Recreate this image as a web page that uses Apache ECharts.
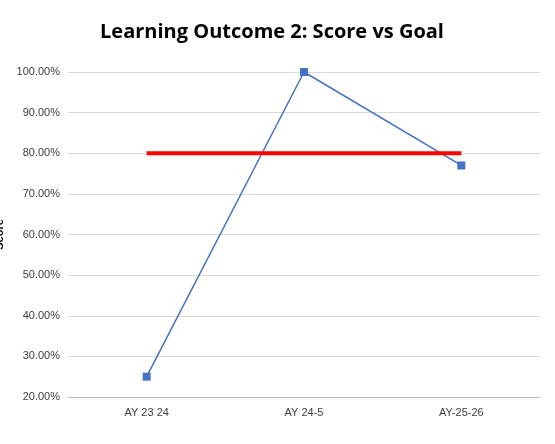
<!DOCTYPE html>
<html><head><meta charset="utf-8">
<script src="https://cdn.jsdelivr.net/npm/echarts@6/dist/echarts.min.js"></script>
<style>html,body{margin:0;padding:0;background:#fff}#c{width:555px;height:444px}</style>
</head><body><div id="c"></div>
<script>
const categories = ['AY 23 24', 'AY 24-5', 'AY-25-26'];
const scores = [0.25, 1.0, 0.77];
const goal = [0.8, 0.8, 0.8];
const chart = echarts.init(document.getElementById('c'));
chart.setOption({
  animation: false,
  title: { text: 'Learning Outcome 2: Score vs Goal', left: 267, textAlign: 'center', top: 17,
    textStyle: { fontFamily: 'Open Sans', fontWeight: 'bold', fontSize: 20, color: '#000' } },
  grid: { left: 68, right: 15, top: 72, bottom: 47, containLabel: false, outerBoundsMode: 'none' },
  xAxis: { type: 'category', data: categories, boundaryGap: true,
    axisLine: { lineStyle: { color: '#bfbfbf' } }, axisTick: { show: false },
    axisLabel: { color: '#404040', fontSize: 11, fontFamily: 'Liberation Sans', margin: 10 } },
  yAxis: { type: 'value', min: 0.2, max: 1.0, interval: 0.1,
    name: 'Score', nameLocation: 'middle', nameGap: 55, nameRotate: 90,
    nameTextStyle: { fontWeight: 'bold', fontSize: 11, color: '#000', fontFamily: 'Liberation Sans' },
    axisLine: { show: false }, axisTick: { show: false },
    splitLine: { lineStyle: { color: '#d9d9d9' } },
    axisLabel: { color: '#404040', fontSize: 11, fontFamily: 'Liberation Sans',
      formatter: v => (v * 100).toFixed(2) + '%' } },
  series: [
    { type: 'line', data: scores, symbol: 'rect', symbolSize: 8,
      lineStyle: { color: '#4472c4', width: 1.5 }, itemStyle: { color: '#4472c4' } },
    { type: 'line', data: goal, symbol: 'none',
      lineStyle: { color: '#ff0000', width: 4 } }
  ]
});
</script></body></html>
